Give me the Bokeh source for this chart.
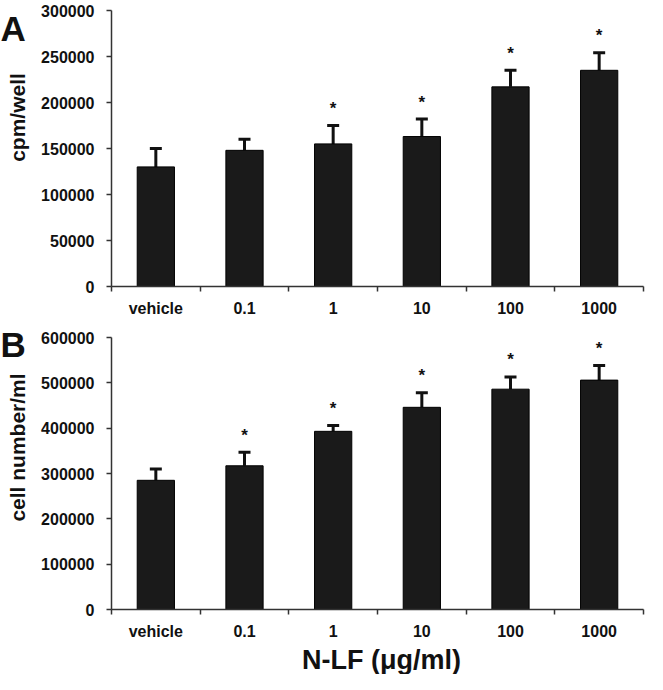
import math
from bokeh.plotting import figure
from bokeh.models import (Range1d, FixedTicker, Whisker, TeeHead, ColumnDataSource,
                          NumeralTickFormatter)
from bokeh.layouts import column
from bokeh.embed import file_html
from bokeh.resources import INLINE
from bokeh.core.properties import value

# ---- data ----
categories = ["vehicle", "0.1", "1", "10", "100", "1000"]
cpm_mean = [130000, 148000, 155000, 163000, 217000, 235000]
cpm_err = [20000, 12000, 20000, 19000, 18000, 19000]
cpm_sig = [False, False, True, True, True, True]
cells_mean = [285000, 317000, 393000, 446000, 486000, 506000]
cells_err = [25000, 30000, 13000, 32000, 27000, 32000]
cells_sig = [False, True, True, True, True, True]
cpm_ticks = [0, 50000, 100000, 150000, 200000, 250000, 300000]
cells_ticks = [0, 100000, 200000, 300000, 400000, 500000, 600000]

FONT = "Liberation Sans"
AXIS_COLOR = "#333333"
BAR_COLOR = "#1a1a1a"
TEXT_COLOR = "#111111"

# ---- layout (pixels) ----
WIDTH = 647
AXIS_LEFT = 111      # pixel of the y axis
AXIS_RIGHT = 643     # pixel of the right end of the x axis


def panel(letter, letter_base, means, errs, sig, yticks, ylabel, ylabel_c, xlabel,
          height, top_px, zero_px):
    n = len(categories)
    # the frame fills the whole canvas; axes sit at fixed data locations
    ux = n / (AXIS_RIGHT - AXIS_LEFT)
    uy = (yticks[-1] - yticks[0]) / (zero_px - top_px)
    x_range = Range1d(0 - AXIS_LEFT * ux, n + (WIDTH - AXIS_RIGHT) * ux)
    y_range = Range1d(yticks[0] - (height - zero_px) * uy, yticks[-1] + top_px * uy)

    xs = [i + 0.5 for i in range(n)]
    tops = [m + e for m, e in zip(means, errs)]
    src = ColumnDataSource(dict(x=xs, mean=means, top=tops))
    p = figure(width=WIDTH, height=height, output_backend="svg", toolbar_location=None,
               x_range=x_range, y_range=y_range,
               min_border_left=0, min_border_right=0, min_border_top=0,
               min_border_bottom=0)
    p.outline_line_color = None
    p.grid.visible = False
    p.background_fill_color = "white"

    p.vbar(x="x", top="mean", width=0.42, source=src,
           fill_color=BAR_COLOR, line_color="#000000", line_width=1)
    w = Whisker(source=src, base="x", upper="top", lower="mean", dimension="height",
                line_width=3, line_color=TEXT_COLOR,
                upper_head=TeeHead(size=12, line_width=3, line_color=TEXT_COLOR),
                lower_head=None)
    p.add_layout(w)

    sx = [x for x, s in zip(xs, sig) if s]
    sy = [t for t, s in zip(tops, sig) if s]
    p.text(x=sx, y=sy, text=["*"] * len(sx), text_align="center",
           text_baseline="middle", y_offset=-17, text_font=value(FONT),
           text_font_style="bold", text_font_size="17px", text_color=TEXT_COLOR)

    # x axis: labels at centres, ticks between categories
    xa = p.xaxis[0]
    xa.fixed_location = yticks[0]
    xa.bounds = (0, n)
    xa.ticker = FixedTicker(ticks=xs, minor_ticks=list(range(n + 1)))
    xa.major_label_overrides = {x: c for x, c in zip(xs, categories)}
    xa.major_tick_out = 0
    xa.major_tick_in = 0
    xa.minor_tick_out = 5
    xa.minor_tick_in = 0
    xa.minor_tick_line_color = AXIS_COLOR
    xa.minor_tick_line_width = 1.5
    xa.axis_line_color = AXIS_COLOR
    xa.axis_line_width = 1.5
    xa.major_label_standoff = 8
    xa.major_label_text_font = FONT
    xa.major_label_text_font_style = "bold"
    xa.major_label_text_font_size = "16px"
    xa.major_label_text_color = TEXT_COLOR

    ya = p.yaxis[0]
    ya.fixed_location = 0
    ya.bounds = (yticks[0], yticks[-1])
    ya.ticker = FixedTicker(ticks=yticks)
    ya.formatter = NumeralTickFormatter(format="0")
    ya.major_tick_out = 5
    ya.major_tick_in = 0
    ya.minor_tick_line_color = None
    ya.major_tick_line_color = AXIS_COLOR
    ya.major_tick_line_width = 1.5
    ya.axis_line_color = AXIS_COLOR
    ya.axis_line_width = 1.5
    ya.major_label_standoff = 12
    ya.major_label_text_font = FONT
    ya.major_label_text_font_style = "bold"
    ya.major_label_text_font_size = "16px"
    ya.major_label_text_color = TEXT_COLOR

    x0, y1 = x_range.start, y_range.end
    # y-axis title (a little above the frame centre, as in the original)
    p.text(x=[x0], y=[y1], text=[ylabel], angle=math.pi / 2, x_offset=16.5,
           y_offset=ylabel_c, text_align="center", text_baseline="middle",
           text_font=value(FONT), text_font_style="bold", text_font_size="21px",
           text_color=TEXT_COLOR)
    # panel letter
    p.text(x=[x0], y=[y1], text=[letter], x_offset=0, y_offset=letter_base,
           text_align="left", text_baseline="alphabetic", text_font=value(FONT),
           text_font_style="bold", text_font_size="35px", text_color=TEXT_COLOR)
    # x-axis title
    if xlabel:
        p.text(x=[n / 2], y=[yticks[0]], text=[xlabel], x_offset=4, y_offset=50,
               text_align="center", text_baseline="middle", text_font=value(FONT),
               text_font_style="bold", text_font_size="27px", text_color=TEXT_COLOR)
    return p


pa = panel("A", 28, cpm_mean, cpm_err, cpm_sig, cpm_ticks, "cpm/well", 117, None,
           318, 10, 286)
pb = panel("B", 26, cells_mean, cells_err, cells_sig, cells_ticks, "cell number/ml", 129,
           "N-LF (\u03bcg/ml)", 356, 19, 291)

layout = column(pa, pb, spacing=0)
open("out.html", "w").write(file_html(layout, INLINE))
